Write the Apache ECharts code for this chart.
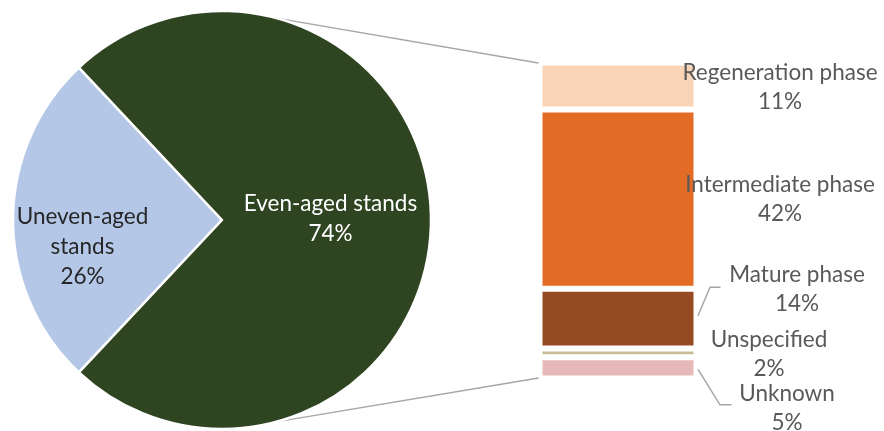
<!DOCTYPE html>
<html>
<head>
<meta charset="utf-8">
<script src="https://cdn.jsdelivr.net/npm/echarts@6/dist/echarts.min.js"></script>
<style>
html,body{margin:0;padding:0;background:#fff;}
#chart{width:884px;height:431px;}
</style>
</head>
<body>
<div id="chart"></div>
<script>
// ---- data ----
var pieNames = ['Uneven-aged stands', 'Even-aged stands'];
var pieValues = [26, 74];
var barNames = ['Regeneration phase', 'Intermediate phase', 'Mature phase', 'Unspecified', 'Unknown'];
var barValues = [11, 42, 14, 2, 5];

// ---- styles / layout ----
var FONT = 'Lato';
var FS = 22.5;
var pieColors = ['#B4C7E7', '#2F4522'];
var pieLabelColors = ['#262626', '#ffffff'];
var pieWrap = [true, false];
var pieLabelShift = [[-32, 27], [1, -1]];
var barColors = ['#FAD4B6', '#E26B25', '#954A21', '#C8BD97', '#E7B8B8'];
var labelGrey = '#595959';
var pieCenter = [222, 220];
var pieRadius = 209;
var barOffsets = [[162, 1], [162, 0], [179, -29], [151, 1], [169, 40]];
var leaders = {
  2: [[1.5, -3], [13.5, -31.5], [24, -31.5]],
  4: [[1.5, 1.5], [23.5, 37], [35, 37]]
};

var total = barValues.reduce(function (a, b) { return a + b; }, 0);

var chart = echarts.init(document.getElementById('chart'), null, {renderer: 'canvas'});

var barSeries = barNames.map(function (n, i) {
  return {
    type: 'bar',
    name: n,
    stack: 'sub',
    barWidth: '100%',
    data: [barValues[i]],
    itemStyle: {color: barColors[i], borderColor: '#ffffff', borderWidth: 3},
    label: {
      show: true,
      position: 'inside',
      offset: barOffsets[i],
      align: 'center',
      verticalAlign: 'middle',
      color: labelGrey,
      fontFamily: FONT,
      fontSize: FS,
      lineHeight: 29,
      formatter: function () { return n + '\n' + barValues[i] + '%'; }
    },
    emphasis: {disabled: true},
    silent: true
  };
});

function wrapName(name, idx) {
  if (!pieWrap[idx]) return name;
  var k = name.lastIndexOf(' ');
  return name.slice(0, k) + '\n' + name.slice(k + 1);
}

function buildOption() {
  return {
    animation: false,
    backgroundColor: '#ffffff',
    grid: {left: 539.5, top: 62.5, width: 157, height: 316, containLabel: false},
    xAxis: {type: 'category', data: ['sub'], show: false, boundaryGap: true},
    yAxis: {type: 'value', min: 0, max: total, inverse: true, show: false},
    series: [{
      type: 'pie',
      center: pieCenter,
      radius: pieRadius,
      startAngle: 180 + pieValues[0] / 100 * 180,
      clockwise: true,
      silent: true,
      emphasis: {disabled: true},
      data: pieNames.map(function (n, i) {
        return {
          name: n,
          value: pieValues[i],
          itemStyle: {color: pieColors[i]},
          label: {color: pieLabelColors[i]}
        };
      }),
      itemStyle: {borderColor: '#ffffff', borderWidth: 2.5},
      label: {
        show: true,
        position: 'inside',
        fontFamily: FONT,
        fontSize: FS,
        lineHeight: 30,
        align: 'center',
        formatter: function (p) { return wrapName(p.name, p.dataIndex) + '\n' + p.value + '%'; }
      },
      labelLayout: function (p) {
        var s = pieLabelShift[p.dataIndex];
        return {dx: s[0], dy: s[1]};
      },
      labelLine: {show: false}
    }].concat(barSeries)
  };
}

// first pass: only to read the scales
chart.setOption(buildOption());
function px(v) { return chart.convertToPixel({xAxisIndex: 0, yAxisIndex: 0}, [0, v]); }
var grid = chart.getModel().getComponent('grid', 0).coordinateSystem.getRect();
var barLeft = grid.x, barRight = grid.x + grid.width;
var topY = px(0)[1], botY = px(total)[1];
var mids = [];
var cum = 0;
barValues.forEach(function (v) { mids.push(px(cum + v / 2)[1]); cum += v; });

var ang = 75 * Math.PI / 180;
var graphics = [];
graphics.push({
  type: 'line', silent: true,
  shape: {x1: pieCenter[0] + pieRadius * Math.cos(ang), y1: pieCenter[1] - pieRadius * Math.sin(ang), x2: barLeft - 1, y2: topY + 0.5},
  style: {stroke: '#A6A6A6', lineWidth: 1.5}
});
graphics.push({
  type: 'line', silent: true,
  shape: {x1: pieCenter[0] + pieRadius * Math.cos(ang), y1: pieCenter[1] + pieRadius * Math.sin(ang), x2: barLeft - 1, y2: botY - 0.5},
  style: {stroke: '#A6A6A6', lineWidth: 1.5}
});
barValues.forEach(function (v, i) {
  if (leaders[i]) {
    graphics.push({
      type: 'polyline', silent: true,
      shape: {points: leaders[i].map(function (p) { return [barRight + p[0], mids[i] + p[1]]; })},
      style: {stroke: '#A6A6A6', lineWidth: 1.5, fill: null}
    });
  }
});

// final pass: clean chart with everything
chart.clear();
var finalOption = buildOption();
finalOption.graphic = graphics;
chart.setOption(finalOption);
</script>
</body>
</html>
